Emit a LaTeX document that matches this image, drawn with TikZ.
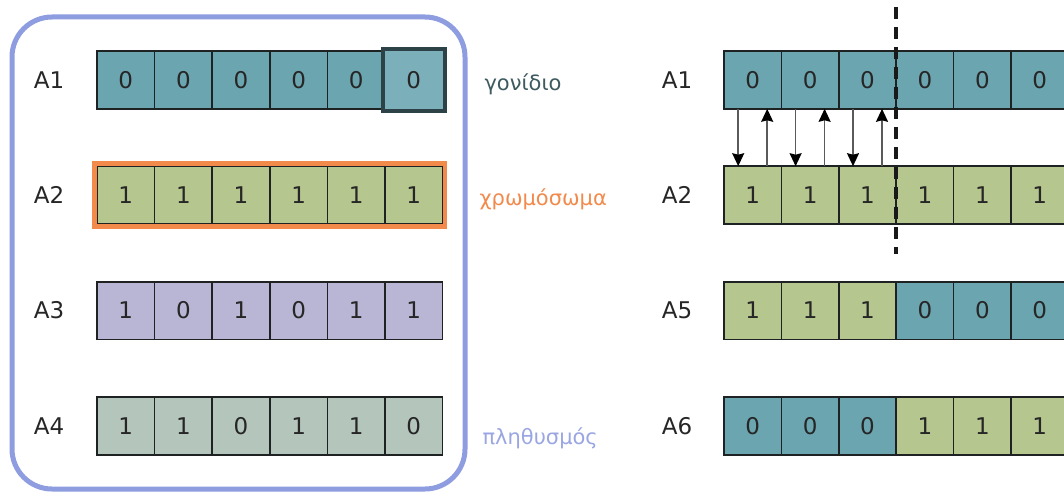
\documentclass[tikz,border=0pt]{standalone}
\usepackage{fontspec}
\setmainfont{DejaVu Sans}
\usetikzlibrary{arrows.meta,fit}

\definecolor{cteal}{HTML}{6BA5B0}
\definecolor{cgreen}{HTML}{B5C68F}
\definecolor{cpurple}{HTML}{B9B5D4}
\definecolor{csage}{HTML}{B4C6BC}
\definecolor{chigh}{HTML}{7BAFBA}
\definecolor{cellline}{HTML}{1E2222}
\definecolor{genedark}{HTML}{2C4246}
\definecolor{genetext}{HTML}{3E5A60}
\definecolor{chromorange}{HTML}{F28A4C}
\definecolor{popblue}{HTML}{8E9CE0}
\definecolor{poptext}{HTML}{9AA6E2}
\definecolor{arrowgrey}{HTML}{5A5A5A}

\begin{document}
\begin{tikzpicture}[x=1pt,y=-1pt,
  cell/.style={draw=cellline, line width=1.6pt, minimum width=57.6pt,
    minimum height=57.6pt, inner sep=0pt, outer sep=0pt,
    font=\fontsize{23}{26}\selectfont, text=black!85},
  rowlabel/.style={font=\fontsize{23}{26}\selectfont, text=black!85},
  greeklabel/.style={anchor=west, font=\fontsize{21}{24}\selectfont},
  swaparrow/.style={draw=arrowgrey, line width=1.6pt,
    -{Stealth[length=13pt,width=12pt,inset=1.5pt,color=black]}},
  cutline/.style={line width=4pt, dash pattern=on 12pt off 8pt, draw=black!90}]

\useasboundingbox (0,0) rectangle (1064,495);

% population frame
\node[draw=popblue, line width=5pt, rounded corners=40pt,
  minimum width=453pt, minimum height=472pt] (pop) at (238.5,253) {};

% left population: four chromosomes, one colour each
\foreach \r/\y/\col/\vals in {1/80/cteal/{0,0,0,0,0,0},
                               2/195/cgreen/{1,1,1,1,1,1},
                               3/310.5/cpurple/{1,0,1,0,1,1},
                               4/426/csage/{1,1,0,1,1,0}}{
  \node[rowlabel] (LA\r) at (49,\y) {A\r};
  \foreach \v [count=\i] in \vals {
    \node[cell, fill=\col] (L\r-\i) at ({97+57.6*(\i-0.5)},\y) {\v};
  }
}

% one gene
\node[draw=genedark, line width=4pt, fill=chigh, minimum width=62pt,
  minimum height=61pt, inner sep=0pt, font=\fontsize{23}{26}\selectfont,
  text=black!85] (gene) at (L1-6) {0};

% one chromosome
\node[draw=chromorange, line width=4.5pt, inner sep=2.5pt, fit=(L2-1)(L2-6)] (chrom) {};

\node[greeklabel, text=genetext] (genelbl) at (481,84) {γονίδιο};
\node[greeklabel, text=chromorange] (chromlbl) at (476,199) {χρωμόσωμα};
\node[greeklabel, text=poptext] (poplbl) at (479,438) {πληθυσμός};

% right: parents and offspring, colour follows the bit
\foreach \r/\n/\y/\vals in {1/1/80/{0,0,0,0,0,0},
                            2/2/195/{1,1,1,1,1,1},
                            3/5/310.5/{1,1,1,0,0,0},
                            4/6/426/{0,0,0,1,1,1}}{
  \node[rowlabel] (RA\r) at (677,\y) {A\n};
  \foreach \v [count=\i] in \vals {
    \ifnum\v=0 \def\col{cteal}\else\def\col{cgreen}\fi
    \node[cell, fill=\col] (R\r-\i) at ({724+57.4*(\i-0.5)},\y) {\v};
  }
}

% exchange of genes before the crossover point
\foreach \i in {1,2,3}{
  \draw[swaparrow] ([xshift=-14.5pt]R1-\i.south) -- ([xshift=-14.5pt]R2-\i.north);
  \draw[swaparrow] ([xshift=14.5pt]R2-\i.north) -- ([xshift=14.5pt]R1-\i.south);
}

% crossover point
\coordinate (cuttop) at (896.2,7);
\coordinate (cutbot) at (896.2,254);
\draw[cutline] (cuttop) -- (cutbot);

\end{tikzpicture}
\end{document}
